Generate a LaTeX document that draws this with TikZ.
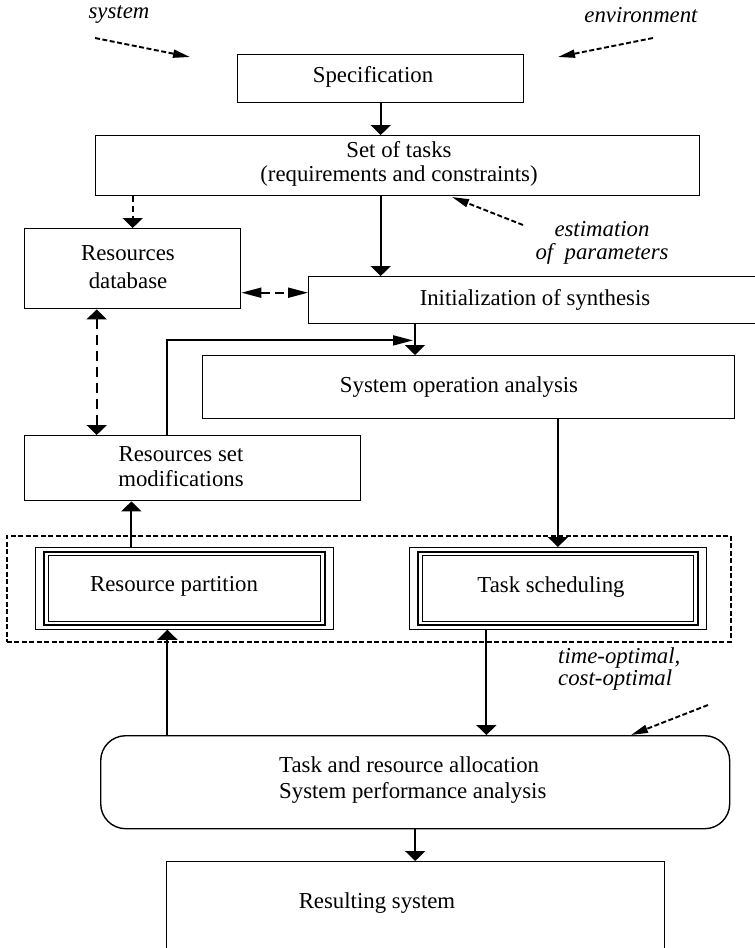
\documentclass[tikz,border=0pt]{standalone}
\usepackage{fontspec}
\setmainfont{Liberation Serif}
\usetikzlibrary{arrows.meta,calc}

\begin{document}
\begin{tikzpicture}[x=1pt,y=-1pt,
  box/.style={draw, line width=1.4pt, inner sep=0pt, anchor=north west},
  txt/.style={font=\fontsize{22.8}{26}\selectfont, inner sep=0pt, align=center},
  note/.style={font=\fontsize{22.8}{23}\selectfont\itshape, inner sep=0pt},
  vtip/.tip={Triangle[length=10pt,width=20pt]},
  htip/.tip={Triangle[length=20pt,width=10pt]},
  dtip/.tip={Triangle[length=17pt,width=8pt]},
  varr/.style={line width=1.9pt, -vtip},
  harr/.style={line width=1.9pt, -htip},
  darr/.style={line width=1.9pt, dash pattern=on 5pt off 2.5pt, -dtip},
  longdash/.style={line width=1.9pt, dash pattern=on 10pt off 6pt},
  thickrim/.style={line width=2.6pt},
  thinrim/.style={line width=0.8pt}
]
\useasboundingbox (0,0) rectangle (755,948);

% ---------- boxes ----------
\node[box, minimum width=286pt, minimum height=48pt] (spec)  at (237,54)  {};
\node[box, minimum width=604pt, minimum height=60pt] (tasks) at (95,135)  {};
\node[box, minimum width=216pt, minimum height=80pt] (resdb) at (24,228)  {};
\node[box, minimum width=460pt, minimum height=47pt] (init)  at (308,276) {};
\node[box, minimum width=532pt, minimum height=63pt] (sysop) at (202,355) {};
\node[box, minimum width=336pt, minimum height=65pt] (resmod) at (24,435) {};

% dashed frame around the two heuristics
\node[box, line width=1.8pt, dash pattern=on 5pt off 2.5pt,
      minimum width=724pt, minimum height=106pt] (frame) at (6,535) {};

% the two framed heuristic blocks
\node[box, thinrim, minimum width=298pt, minimum height=82pt] (respart) at (35,547) {};
\node[box, thinrim, minimum width=297pt, minimum height=82pt] (tasksch) at (409,547) {};
\foreach \b in {respart,tasksch}{
  \draw[thickrim] ([shift={(9,5)}]\b.north west) rectangle ([shift={(-9,-5)}]\b.south east);
  \draw[thinrim]  ([shift={(13,8)}]\b.north west) rectangle ([shift={(-13,-8)}]\b.south east);
}

\node[box, rounded corners=25pt, minimum width=629pt, minimum height=93pt] (alloc) at (100,735) {};
\node[box, minimum width=498pt, minimum height=130pt] (result) at (166,861) {};

% ---------- texts ----------
\node[note] (tsys) at (119,15) {system};
\node[note] (tenv) at (641,15) {environment};
\node[txt] (lspec)  at (373,77)  {Specification};
\node[txt, font=\fontsize{22.8}{24}\selectfont] (ltasks) at (399,164) {Set of tasks\\(requirements and constraints)};
\node[txt, font=\fontsize{22.8}{28}\selectfont] (lresdb) at (128,267) {Resources\\database};
\node[note, align=center] (test) at (602,243) {estimation\\of\ \ parameters};
\node[txt] (linit)  at (535,300) {Initialization of synthesis};
\node[txt] (lsysop) at (459,387) {System operation analysis};
\node[txt, font=\fontsize{22.8}{25}\selectfont] (lresmod) at (181,467) {Resources set\\modifications};
\node[txt] (lrespart) at (174,586) {Resource partition};
\node[txt] (ltasksch) at (551,587) {Task scheduling};
\node[note, align=left, anchor=west, font=\fontsize{22.8}{22}\selectfont\itshape] (topt) at (558,669) {time-optimal,\\cost-optimal};
\node[txt, align=left, anchor=west, font=\fontsize{22.8}{26}\selectfont] (lalloc) at (279,780) {Task and resource allocation\\System performance analysis};
\node[txt] (lresult) at (377,903) {Resulting system};

% ---------- connectors ----------
% inputs from system and environment
\coordinate (sysA) at (95,38);   \coordinate (sysB) at (190,57);
\coordinate (envA) at (653,38);  \coordinate (envB) at (558,57);
\draw[darr] (sysA) -- (sysB);
\draw[darr] (envA) -- (envB);

\draw[varr] (spec.south) -- (spec.south |- tasks.north);

\draw[varr, dash pattern=on 6pt off 4pt] (resdb.north |- tasks.south) -- (resdb.north);
\draw[varr] (spec.south |- tasks.south) -- (spec.south |- init.north);

\coordinate (estA) at (523,225); \coordinate (estB) at (452,197);
\draw[darr] (estA) -- (estB);

\draw[longdash, dash pattern=on 9pt off 5pt, htip-htip]
  ([yshift=-24pt]resdb.east) coordinate (h1) -- (h1 -| init.west);
\draw[longdash, vtip-vtip]
  ([xshift=-36pt]resdb.south) coordinate (v1) -- (v1 |- resmod.north);

\draw[varr] (415,0 |- init.south) coordinate (i1) -- (i1 |- sysop.north);
\draw[harr] ([xshift=-26pt]resmod.north) |- ($(i1)+(-2,16)$);

\draw[varr] ([xshift=-53pt]respart.north) coordinate (p1) -- (p1 |- resmod.south);
\draw[varr] (tasksch.north |- sysop.south) -- (tasksch.north);
\draw[varr] ([xshift=-71.5pt]tasksch.south) coordinate (t1) -- (t1 |- alloc.north);
\path ([xshift=-17pt]respart.south) coordinate (p2);
\draw[varr] (p2 |- alloc.north) -- (p2);

\coordinate (critA) at (708,705); \coordinate (critB) at (631,735);
\draw[darr] (critA) -- (critB);

\draw[varr] (alloc.south) -- (alloc.south |- result.north);
\end{tikzpicture}
\end{document}
